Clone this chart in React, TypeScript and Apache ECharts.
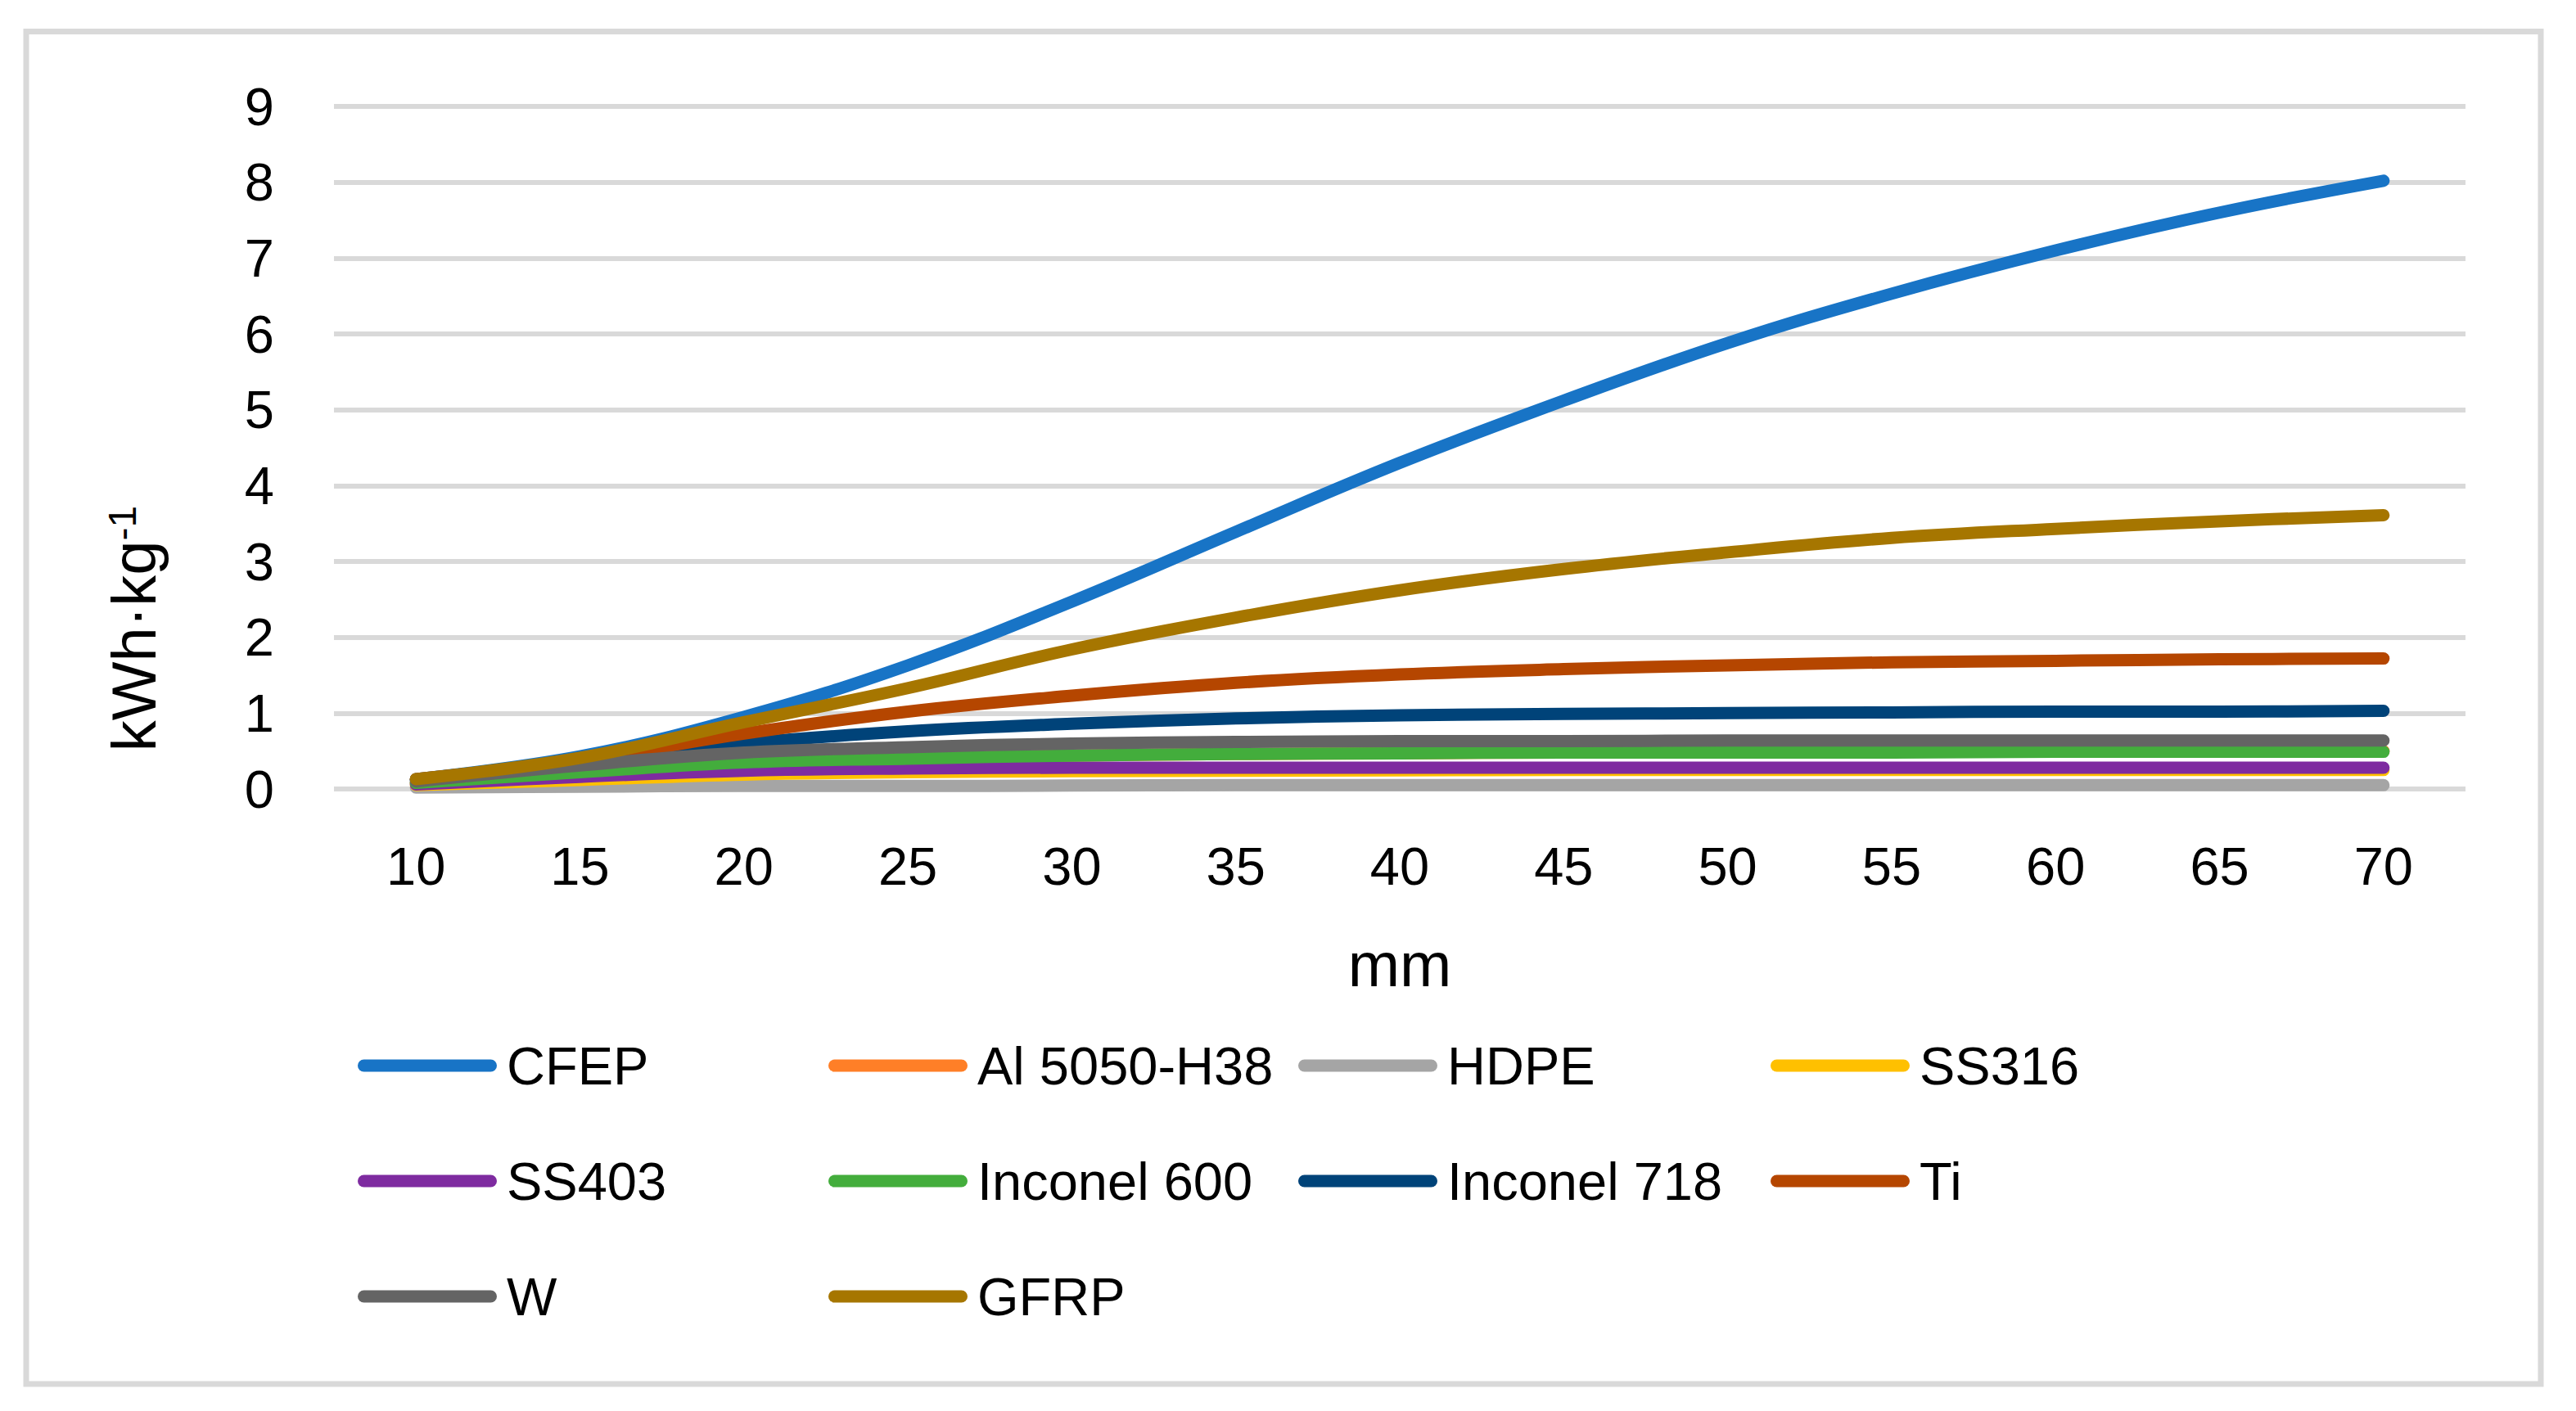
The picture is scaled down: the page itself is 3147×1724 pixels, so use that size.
import React, { useEffect, useRef } from "react";
import * as echarts from "echarts";

const FONT = "Liberation Sans";

const categories = ["10", "15", "20", "25", "30", "35", "40", "45", "50", "55", "60", "65", "70"];
const yTicks = [0, 1, 2, 3, 4, 5, 6, 7, 8, 9];

const cfep = [0.13, 0.43, 0.95, 1.63, 2.47, 3.39, 4.3, 5.12, 5.88, 6.53, 7.1, 7.6, 8.02];
const al5050 = [0.08, 0.22, 0.34, 0.4, 0.44, 0.46, 0.47, 0.48, 0.48, 0.49, 0.49, 0.49, 0.5];
const hdpe = [0.02, 0.03, 0.04, 0.04, 0.045, 0.05, 0.05, 0.05, 0.05, 0.05, 0.05, 0.05, 0.05];
const ss316 = [0.05, 0.12, 0.19, 0.22, 0.235, 0.24, 0.245, 0.25, 0.25, 0.25, 0.25, 0.25, 0.25];
const ss403 = [0.06, 0.16, 0.24, 0.27, 0.28, 0.28, 0.28, 0.28, 0.28, 0.28, 0.28, 0.28, 0.28];
const inconel600 = [0.08, 0.22, 0.35, 0.4, 0.44, 0.46, 0.47, 0.48, 0.48, 0.48, 0.49, 0.49, 0.49];
const inconel718 = [0.12, 0.36, 0.6, 0.76, 0.86, 0.93, 0.97, 0.99, 1.0, 1.01, 1.02, 1.02, 1.03];
const ti = [0.13, 0.38, 0.73, 1.02, 1.23, 1.4, 1.51, 1.58, 1.63, 1.67, 1.69, 1.71, 1.72];
const w = [0.1, 0.31, 0.48, 0.55, 0.6, 0.62, 0.63, 0.63, 0.64, 0.64, 0.64, 0.64, 0.64];
const gfrp = [0.13, 0.41, 0.88, 1.33, 1.84, 2.26, 2.62, 2.9, 3.12, 3.31, 3.43, 3.53, 3.61];

const seriesNames = ["CFEP", "Al 5050-H38", "HDPE", "SS316", "SS403", "Inconel 600", "Inconel 718", "Ti", "W", "GFRP"];
const seriesData = [cfep, al5050, hdpe, ss316, ss403, inconel600, inconel718, ti, w, gfrp];
const seriesColors = ["#1874C6", "#FF7F27", "#A5A5A5", "#FFC000", "#7E2BA0", "#43AD3C", "#004379", "#B54600", "#646464", "#A67600"];

const legendColumns = [
  ["CFEP", "SS403", "W"],
  ["Al 5050-H38", "Inconel 600", "GFRP"],
  ["HDPE", "Inconel 718"],
  ["SS316", "Ti"],
];
const legendColumnLeft = [432, 1007, 1581, 2158];

const capsule = "path://M7.5,0 L162.5,0 A7.5,7.5 0 0 1 162.5,15 L7.5,15 A7.5,7.5 0 0 1 7.5,0 Z";

export default function App() {
  const ref = useRef<HTMLDivElement>(null);
  useEffect(() => {
    if (!ref.current) return;
    const chart = echarts.init(ref.current, null, { renderer: "svg" });
    const option = {
      animation: false,
      backgroundColor: "#ffffff",
      grid: { left: 408, right: 135, top: 130, bottom: 760, containLabel: false },
      xAxis: {
        type: "category",
        data: categories,
        boundaryGap: true,
        axisLine: { show: false },
        axisTick: { show: false },
        splitLine: { show: false },
        axisLabel: { fontSize: 65, color: "#000", fontFamily: FONT, margin: 62 },
      },
      yAxis: {
        type: "value",
        min: yTicks[0],
        max: yTicks[yTicks.length - 1],
        interval: 1,
        axisLine: { show: false },
        axisTick: { show: false },
        splitLine: { lineStyle: { color: "#D9D9D9", width: 6 } },
        axisLabel: { fontSize: 65, color: "#000", fontFamily: FONT, margin: 73 },
      },
      legend: legendColumns.map((col, i) => ({
        data: col,
        orient: "vertical",
        left: legendColumnLeft[i],
        top: 1257,
        itemWidth: 170,
        itemHeight: 15,
        itemGap: 61,
        icon: capsule,
        selectedMode: false,
        textStyle: { fontSize: 65, color: "#000", fontFamily: FONT, lineHeight: 80, padding: [0, 0, 0, 7] },
      })),
      graphic: [
        {
          type: "rect",
          shape: { x: 32, y: 38.5, width: 3072, height: 1652.5 },
          style: { fill: "none", stroke: "#D9D9D9", lineWidth: 7 },
          silent: true,
        },
        {
          type: "text",
          x: 1710,
          y: 1178,
          style: { text: "mm", fontSize: 76, fontFamily: FONT, fill: "#000", align: "center", verticalAlign: "middle" },
          silent: true,
        },
        {
          type: "text",
          x: 163,
          y: 768,
          rotation: Math.PI / 2,
          style: {
            text: "{a|kWh·kg}{b|-1}",
            align: "center",
            verticalAlign: "middle",
            fill: "#000",
            rich: {
              a: { fontSize: 76, fontFamily: FONT, fill: "#000" },
              b: { fontSize: 48, fontFamily: FONT, fill: "#000", verticalAlign: "top" },
            },
          },
          silent: true,
        },
      ],
      series: seriesNames.map((name, i) => ({
        name,
        type: "line",
        data: seriesData[i],
        smooth: 0.4,
        symbol: "none",
        showSymbol: false,
        color: seriesColors[i],
        itemStyle: { color: seriesColors[i] },
        lineStyle: { width: 15, color: seriesColors[i], cap: "round", join: "round" },
      })),
    };
    chart.setOption(option as any);
    return () => chart.dispose();
  }, []);
  return <div ref={ref} style={{ position: "absolute", left: 0, top: 0, width: 3147, height: 1724 }} />;
}
